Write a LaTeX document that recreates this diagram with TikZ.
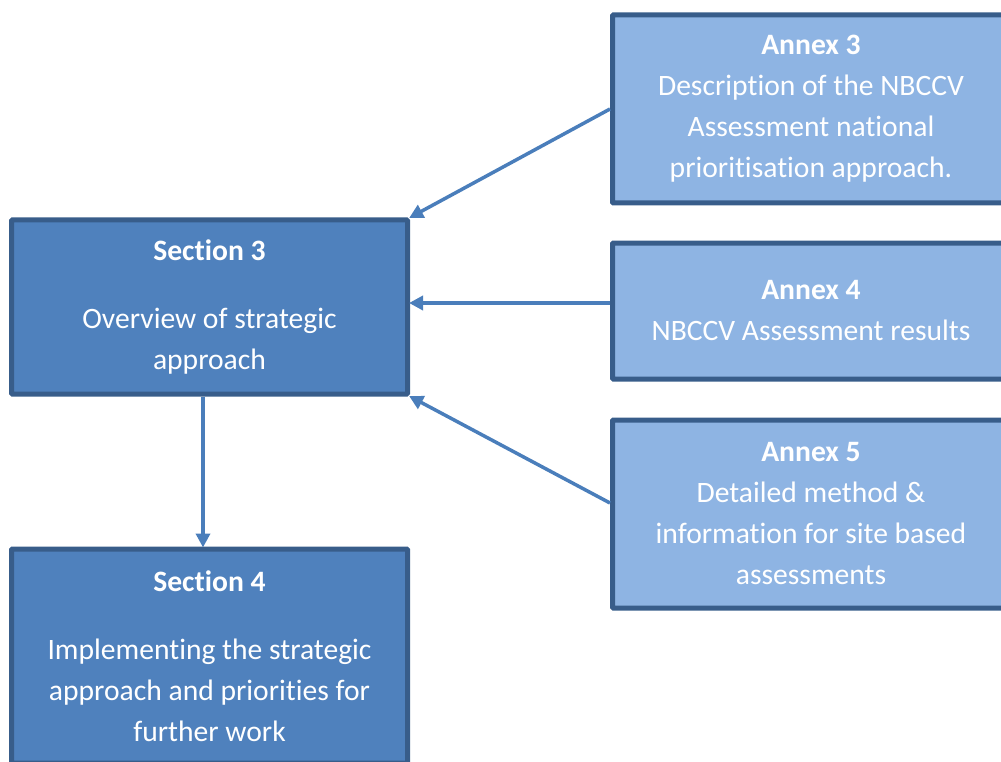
\documentclass[tikz,border=0pt]{standalone}
\usepackage{fontspec}
\setmainfont{Carlito}[Ligatures=NoCommon]
\usetikzlibrary{arrows.meta}
\definecolor{secfill}{HTML}{4F81BD}
\definecolor{annfill}{HTML}{8EB4E3}
\definecolor{bordc}{HTML}{385D8A}
\definecolor{arrc}{HTML}{4A7EBB}
\begin{document}
\begin{tikzpicture}[x=1pt,y=-1pt,
  box/.style={draw=bordc, line width=5pt, rectangle, rounded corners=1pt, text=white, align=center,
    font=\fontsize{29.6}{41}\selectfont, inner sep=0pt},
  secbox/.style={box, fill=secfill, minimum width=396pt},
  annbox/.style={box, fill=annfill, minimum width=397pt},
  arr/.style={draw=arrc, line width=3.5pt, -{Triangle[length=14pt,width=14pt]}, shorten >=-1pt}]
\useasboundingbox (0,0) rectangle (1001,762);
\begin{scope}
\clip (0,0) rectangle (1001,762);
\node[secbox, minimum height=174pt] (s3) at (209.5,307) {\textbf{Section 3}\\[27pt]Overview of strategic\\approach};
\node[secbox, minimum height=214pt] (s4) at (209.5,656) {\textbf{Section 4}\\[27pt]Implementing the strategic\\approach and priorities for\\further work};
\node[annbox, minimum height=188pt] (a3) at (811,109) {\textbf{Annex 3}\\Description of the NBCCV\\Assessment national\\prioritisation approach.};
\node[annbox, minimum height=136pt] (a4) at (811,311) {\textbf{Annex 4}\\NBCCV Assessment results};
\node[annbox, minimum height=188pt] (a5) at (811,514) {\textbf{Annex 5}\\Detailed method \&\\information for site based\\assessments};
\end{scope}
\draw[arr] (a3.west) -- (s3.north east);
\draw[arr] ([yshift=8pt]a4.west) -- ([yshift=4pt]s3.east);
\draw[arr] ([yshift=11pt]a5.west) -- (s3.south east);
\draw[arr] ([xshift=-6.5pt]s3.south) -- ([xshift=-6.5pt]s4.north);
\end{tikzpicture}
\end{document}
